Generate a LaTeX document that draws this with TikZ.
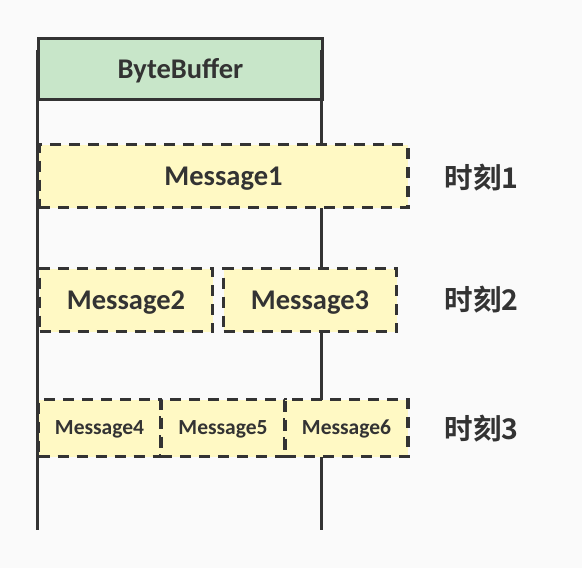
\documentclass[tikz,border=0pt]{standalone}
\usepackage{fontspec}
\setmainfont{Carlito}
\newfontfamily\cjk{Noto Sans CJK SC}[BoldFont={Noto Sans CJK SC Bold}]
\definecolor{bgc}{HTML}{FAFAFA}
\definecolor{linec}{HTML}{333333}
\definecolor{greenc}{HTML}{C8E6C9}
\definecolor{yellowc}{HTML}{FFF9C4}
\tikzset{
  bufbox/.style={draw=linec, line width=3pt, fill=greenc, inner sep=0pt, text=linec,
    text height=18.4pt, text depth=0pt,
    font=\bfseries\fontsize{28.5}{28.5}\selectfont},
  msgbox/.style={draw=linec, line width=3.2pt, dash pattern=on 11pt off 8pt, fill=yellowc,
    inner sep=0pt, text=linec, text height=18.4pt, text depth=0pt,
    font=\bfseries\fontsize{28.5}{28.5}\selectfont},
  smallmsg/.style={msgbox, text height=13.8pt, font=\bfseries\fontsize{21.5}{21.5}\selectfont},
  timelabel/.style={text=linec, inner sep=0pt, font=\cjk\bfseries\fontsize{28.5}{28.5}\selectfont},
  bufline/.style={draw=linec, line width=3pt}
}
\begin{document}
\begin{tikzpicture}[x=1pt,y=-1pt]
\fill[bgc] (0,0) rectangle (582,568);
\useasboundingbox (0,0) rectangle (582,568);
\node[bufbox, minimum width=284pt, minimum height=61pt] (buf) at (180.5,69) {ByteBuffer};
\coordinate (l1) at (37,50);
\coordinate (l2) at (37,530);
\coordinate (r1) at (321,50);
\coordinate (r2) at (321,530);
\draw[bufline] (l1) -- (l2);
\draw[bufline] (r1) -- (r2);
\node[msgbox, minimum width=369pt, minimum height=63pt] (m1) at (223.5,176) {Message1};
\node[msgbox, minimum width=173pt, minimum height=63pt] (m2) at (126,300) {Message2};
\node[msgbox, minimum width=173pt, minimum height=63pt] (m3) at (310,300) {Message3};
\node[smallmsg, minimum width=122pt, minimum height=57pt] (m4) at (99.5,428) {Message4};
\node[smallmsg, minimum width=124pt, minimum height=57pt] (m5) at (223,428) {Message5};
\node[smallmsg, minimum width=123pt, minimum height=57pt] (m6) at (346.5,428) {Message6};
\node[timelabel] (t1) at (481.5,178) {时刻1};
\node[timelabel] (t2) at (481.5,300) {时刻2};
\node[timelabel] (t3) at (481.5,429) {时刻3};
\end{tikzpicture}
\end{document}
